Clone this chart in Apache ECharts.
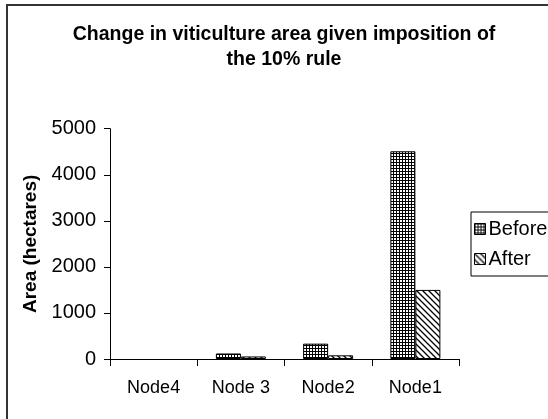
<!DOCTYPE html>
<html>
<head>
<meta charset="utf-8">
<script src="https://cdn.jsdelivr.net/npm/echarts@6/dist/echarts.min.js"></script>
<style>
html,body{margin:0;padding:0;background:#fff;}
#chart{width:548px;height:419px;}
</style>
</head>
<body>
<div id="chart"></div>
<script>
const categories = ['Node4', 'Node 3', 'Node2', 'Node1'];
const beforeValues = [0, 120, 333, 4510];
const afterValues = [0, 55, 80, 1500];
const seriesNames = ['Before', 'After'];
const titleText = 'Change in viticulture area given imposition of\nthe 10% rule';
const yAxisName = 'Area (hectares)';

function gridPattern() {
  const c = document.createElement('canvas');
  c.width = 3; c.height = 3;
  const g = c.getContext('2d');
  g.fillStyle = '#fff'; g.fillRect(0, 0, 3, 3);
  g.fillStyle = '#000';
  g.fillRect(0, 0, 3, 1);
  g.fillRect(0, 0, 1, 3);
  return { image: c, repeat: 'repeat' };
}
function diagPattern() {
  const s = 6;
  const c = document.createElement('canvas');
  c.width = s; c.height = s;
  const g = c.getContext('2d');
  g.fillStyle = '#fff'; g.fillRect(0, 0, s, s);
  g.strokeStyle = '#000'; g.lineWidth = 1.3;
  g.beginPath();
  g.moveTo(-1, -1); g.lineTo(s + 1, s + 1);
  g.moveTo(-1, s - 1); g.lineTo(1, s + 1);
  g.moveTo(s - 1, -1); g.lineTo(s + 1, 1);
  g.stroke();
  return { image: c, repeat: 'repeat' };
}
function toBarData(values) {
  return values.map(v => v === 0 ? { value: v, itemStyle: { borderWidth: 0, opacity: 0 } } : v);
}

const chart = echarts.init(document.getElementById('chart'), null, { renderer: 'canvas' });
const sans = '"Liberation Sans", Arial, sans-serif';

chart.setOption({
  animation: false,
  backgroundColor: '#fff',
  graphic: [{
    type: 'rect',
    shape: { x: 7, y: 5, width: 700, height: 600 },
    style: { fill: 'none', stroke: '#333', lineWidth: 2 },
    silent: true, z: 0
  }],
  title: {
    text: titleText,
    left: 279,
    top: 17,
    textAlign: 'center',
    textStyle: {
      fontFamily: sans, fontWeight: 'bold', fontSize: 19.5,
      color: '#000', lineHeight: 25
    }
  },
  legend: {
    data: seriesNames,
    orient: 'vertical',
    left: 471,
    top: 212,
    padding: [7, 12, 7, 3],
    itemGap: 10,
    itemWidth: 11,
    itemHeight: 11,
    borderColor: '#000',
    borderWidth: 1,
    icon: 'rect',
    itemStyle: { borderColor: '#000', borderWidth: 1 },
    textStyle: { fontFamily: sans, fontSize: 20, color: '#000', padding: [0, 0, 0, -2] }
  },
  grid: { left: 110, right: 89, top: 128.7, bottom: 60, containLabel: false },
  xAxis: {
    type: 'category',
    data: categories,
    axisLine: { lineStyle: { color: '#000', width: 1 } },
    axisTick: { show: true, length: 7, lineStyle: { color: '#000' } },
    axisLabel: { margin: 20, fontFamily: sans, fontSize: 18, color: '#000' }
  },
  yAxis: {
    type: 'value',
    min: 0, max: 5000, interval: 1000,
    name: yAxisName,
    nameLocation: 'middle',
    nameGap: 70,
    nameRotate: 90,
    nameTextStyle: { fontFamily: sans, fontWeight: 'bold', fontSize: 19, color: '#000' },
    splitLine: { show: false },
    axisLine: { show: true, lineStyle: { color: '#000', width: 1 } },
    axisTick: { show: true, length: 6, lineStyle: { color: '#000' } },
    axisLabel: {
      margin: 14, fontFamily: sans, fontSize: 20, color: '#000',
      formatter: v => String(v)
    }
  },
  series: [{
    name: seriesNames[0],
    type: 'bar',
    data: toBarData(beforeValues),
    barWidth: 25,
    barGap: '0%',
    itemStyle: { color: gridPattern(), borderColor: '#000', borderWidth: 1 }
  }, {
    name: seriesNames[1],
    type: 'bar',
    data: toBarData(afterValues),
    barWidth: 25,
    itemStyle: { color: diagPattern(), borderColor: '#000', borderWidth: 1 }
  }]
});
</script>
</body>
</html>
